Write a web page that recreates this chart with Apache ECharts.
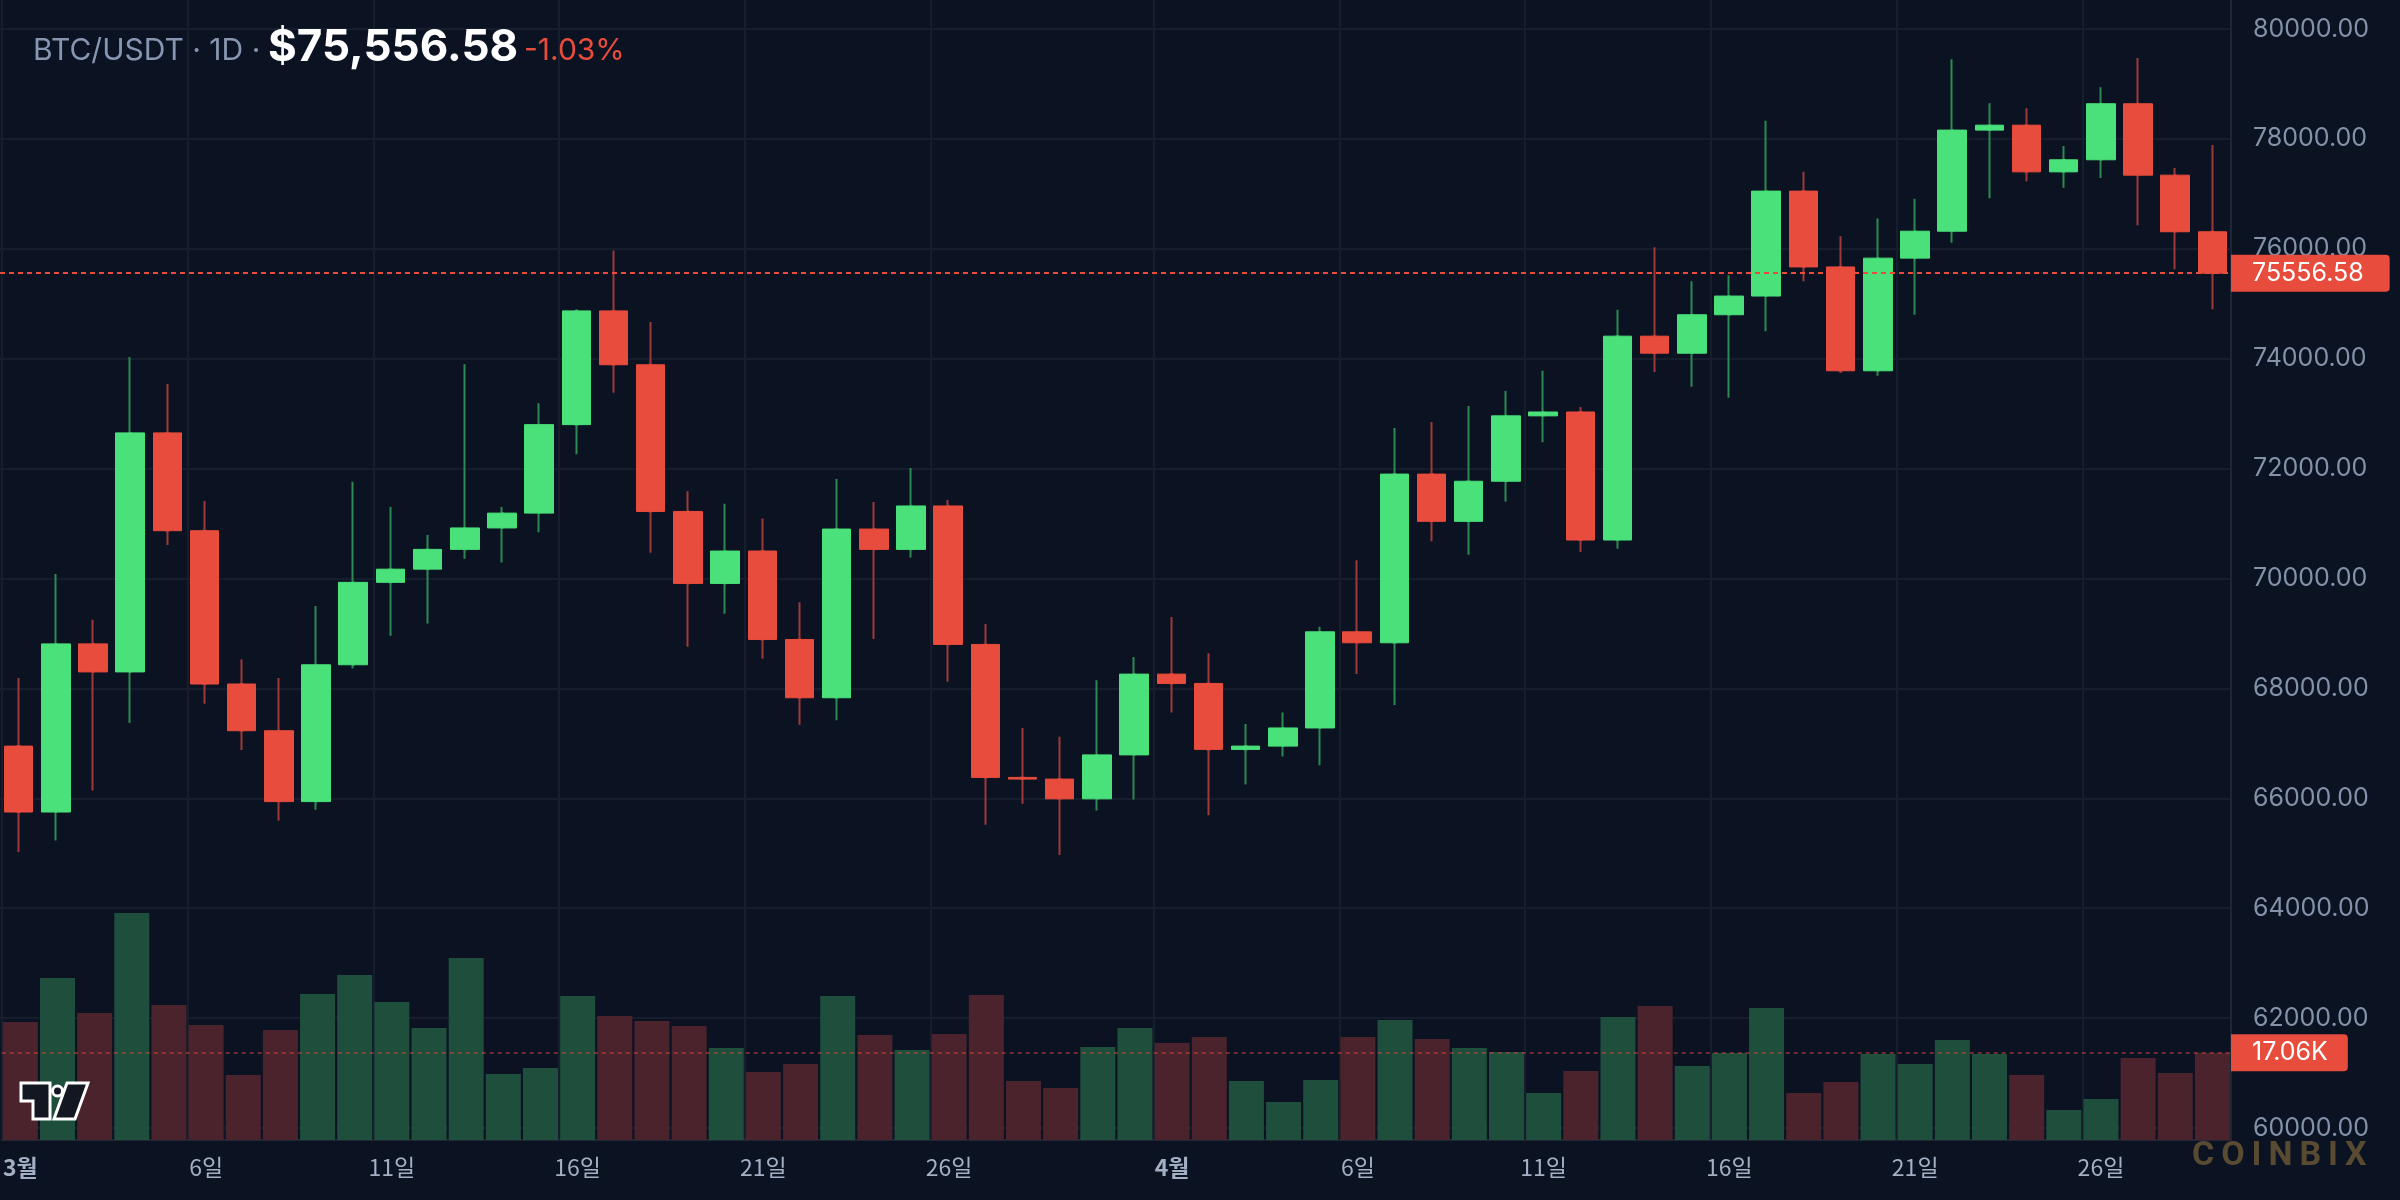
<!DOCTYPE html>
<html>
<head>
<meta charset="utf-8">
<title>BTC/USDT 1D</title>
<script src="https://cdn.jsdelivr.net/npm/echarts@6/dist/echarts.min.js"></script>
<style>
html, body { margin: 0; padding: 0; background: #0b1222; }
#chart { width: 2400px; height: 1200px; }
</style>
</head>
<body>
<div id="chart"></div>
<script>
// daily candles, 1 Mar - 29 Apr
var dates = [
  '03-01','03-02','03-03','03-04','03-05','03-06','03-07','03-08','03-09','03-10',
  '03-11','03-12','03-13','03-14','03-15','03-16','03-17','03-18','03-19','03-20',
  '03-21','03-22','03-23','03-24','03-25','03-26','03-27','03-28','03-29','03-30',
  '03-31','04-01','04-02','04-03','04-04','04-05','04-06','04-07','04-08','04-09',
  '04-10','04-11','04-12','04-13','04-14','04-15','04-16','04-17','04-18','04-19',
  '04-20','04-21','04-22','04-23','04-24','04-25','04-26','04-27','04-28','04-29'
];
var opens = [
  66950, 65750, 68810, 68300, 72650, 70870, 68080, 67230, 65940, 68430,
  69930, 70170, 70530, 70920, 71190, 72800, 74870, 73890, 71220, 69910,
  70500, 68890, 67830, 70900, 70530, 71320, 68800, 66380, 66350, 65990,
  66790, 68260, 68090, 66890, 66950, 67280, 69030, 68830, 71900, 71040,
  71770, 72960, 73030, 70700, 74410, 74100, 74800, 75140, 77050, 75670,
  73780, 75830, 76320, 78160, 78250, 77400, 77620, 78640, 77340, 76310
];
var closes = [
  65750, 68810, 68300, 72650, 70870, 68080, 67230, 65940, 68430, 69930,
  70170, 70530, 70920, 71190, 72800, 74870, 73890, 71220, 69910, 70500,
  68890, 67830, 70900, 70530, 71320, 68800, 66380, 66350, 65990, 66790,
  68260, 68090, 66890, 66950, 67280, 69030, 68830, 71900, 71040, 71770,
  72960, 73030, 70700, 74410, 74100, 74800, 75140, 77050, 75670, 73780,
  75830, 76320, 78160, 78250, 77400, 77620, 78640, 77340, 76310, 75556.58
];
var lows = [
  65025, 65230, 66140, 67370, 70610, 67720, 66880, 65590, 65790, 68360,
  68960, 69180, 70360, 70290, 70840, 72260, 73380, 70470, 68760, 69360,
  68540, 67340, 67420, 68900, 70380, 68120, 65520, 65900, 64970, 65780,
  65980, 67560, 65690, 66250, 66760, 66600, 68260, 67700, 70680, 70430,
  71400, 72480, 70480, 70540, 73760, 73490, 73290, 74500, 75410, 73740,
  73690, 74800, 76110, 76920, 77230, 77110, 77290, 76430, 75630, 74900
];
var highs = [
  68190, 70080, 69250, 74030, 73540, 71410, 68530, 68190, 69500, 71760,
  71300, 70790, 73900, 71300, 73190, 74900, 75970, 74670, 71590, 71360,
  71090, 69570, 71810, 71390, 72010, 71430, 69170, 67280, 67120, 68150,
  68570, 69300, 68640, 67350, 67560, 69120, 70330, 72740, 72850, 73140,
  73410, 73780, 73120, 74890, 76030, 75410, 75520, 78330, 77400, 76230,
  76550, 76910, 79450, 78650, 78560, 77870, 78940, 79470, 77470, 77890
];
// volume in thousands
var volumes = [
  23.06, 31.66, 24.82, 44.36, 26.38, 22.47, 12.70, 21.50, 28.53, 32.25,
  26.97, 21.89, 35.57, 12.90, 14.07, 28.14, 24.23, 23.26, 22.28, 17.98,
  13.29, 14.85, 28.14, 20.52, 17.59, 20.72, 28.34, 11.53, 10.16, 18.17,
  21.89, 18.96, 20.13, 11.53, 7.43, 11.73, 20.13, 23.45, 19.74, 17.98,
  17.20, 9.19, 13.48, 24.04, 26.19, 14.46, 17.00, 25.80, 9.19, 11.33,
  16.81, 14.85, 19.54, 16.81, 12.70, 5.86, 8.01, 16.02, 13.09, 17.06
];
var changePct = -1.03;
var priceMin = 60000, priceMax = 80000, priceStep = 2000;
var volMax = 222.8;

var UP = '#4ae07a', DOWN = '#e74c3c';
var WICK_UP = '#2c8a50', WICK_DOWN = '#a0393a';
var VOL_UP = '#1e4f3d', VOL_DOWN = '#4b232d';
var GRID_LINE = '#161e2e';
var AXIS_LINE = '#1f2737';
var AXIS_TEXT = '#8492a9';
var DATE_TEXT = '#a3afc3';

var wicks = dates.map(function (d, i) {
  return [opens[i], closes[i], lows[i], highs[i]];
});
var bodies = dates.map(function (d, i) {
  return [opens[i], closes[i], Math.min(opens[i], closes[i]), Math.max(opens[i], closes[i])];
});
var last = dates.length - 1;

function showDay(v) {
  var d = +v.split('-')[1];
  return (d - 1) % 5 === 0 && d !== 31;
}

var chart = echarts.init(document.getElementById('chart'));

var option = {
  backgroundColor: '#0b1222',
  animation: false,
  grid: [
    { left: -2, right: 169, top: 29, bottom: 72 },
    { left: -2, right: 169, top: 0, bottom: 60 }
  ],
  xAxis: [
    {
      type: 'category', gridIndex: 0, data: dates, boundaryGap: true,
      axisLine: { show: false }, axisTick: { show: false },
      axisLabel: { show: false }, splitLine: { show: false }
    },
    {
      type: 'category', gridIndex: 1, data: dates, boundaryGap: true,
      axisLine: { show: true, lineStyle: { color: AXIS_LINE, width: 2 } },
      axisTick: { show: false },
      axisLabel: {
        margin: 16,
        interval: function (i, v) { return showDay(v); },
        formatter: function (v) {
          var p = v.split('-');
          var m = +p[0], d = +p[1];
          return d === 1 ? '{m|' + m + '월}' : '{d|' + d + '일}';
        },
        rich: {
          m: { color: DATE_TEXT, fontSize: 23, fontWeight: 'bold', fontFamily: 'Noto Sans CJK KR' },
          d: { color: DATE_TEXT, fontSize: 23, fontFamily: 'Noto Sans CJK KR' }
        }
      },
      splitLine: {
        show: true,
        interval: function (i, v) { return showDay(v); },
        lineStyle: { color: GRID_LINE, width: 2 }
      }
    }
  ],
  yAxis: [
    {
      type: 'value', gridIndex: 0, position: 'right',
      min: priceMin, max: priceMax, interval: priceStep,
      axisLine: { show: false }, axisTick: { show: false },
      axisLabel: {
        margin: 22, color: AXIS_TEXT, fontSize: 25, fontFamily: 'Inter',
        formatter: function (v) { return v.toFixed(2); }
      },
      splitLine: { show: true, lineStyle: { color: GRID_LINE, width: 2 } }
    },
    {
      type: 'value', gridIndex: 1, position: 'right',
      min: 0, max: volMax,
      axisLine: { show: true, lineStyle: { color: AXIS_LINE, width: 2 } },
      axisTick: { show: false }, axisLabel: { show: false },
      splitLine: { show: false }
    }
  ],
  series: [
    {
      name: 'volume', type: 'bar', xAxisIndex: 1, yAxisIndex: 1,
      data: volumes, barWidth: 35,
      itemStyle: {
        color: function (p) {
          return closes[p.dataIndex] >= opens[p.dataIndex] ? VOL_UP : VOL_DOWN;
        }
      },
      markLine: {
        silent: true, symbol: ['none', 'none'],
        lineStyle: { color: 'rgba(231,76,60,0.45)', type: [4, 4], width: 2 },
        label: {
          position: 'end', distance: 0,
          formatter: volumes[last].toFixed(2) + 'K',
          color: '#fff', fontSize: 25, fontFamily: 'Inter',
          backgroundColor: DOWN, padding: [6, 20, 6, 21], borderRadius: [0, 4, 4, 0]
        },
        data: [{ yAxis: volumes[last] }]
      }
    },
    {
      name: 'wick', type: 'candlestick', xAxisIndex: 0, yAxisIndex: 0,
      data: wicks, barWidth: 2,
      itemStyle: {
        color: WICK_UP, color0: WICK_DOWN,
        borderColor: WICK_UP, borderColor0: WICK_DOWN, borderWidth: 2
      }
    },
    {
      name: 'BTC/USDT', type: 'candlestick', xAxisIndex: 0, yAxisIndex: 0,
      data: bodies, barWidth: 29,
      itemStyle: {
        color: UP, color0: DOWN,
        borderColor: UP, borderColor0: DOWN, borderWidth: 1
      },
      markLine: {
        silent: true, symbol: ['none', 'none'],
        lineStyle: { color: DOWN, type: [5, 4], width: 2 },
        label: {
          position: 'end', distance: 0,
          formatter: closes[last].toFixed(2),
          color: '#fff', fontSize: 25, fontFamily: 'Inter',
          backgroundColor: DOWN, padding: [6, 26, 6, 21], borderRadius: [0, 4, 4, 0]
        },
        data: [{ yAxis: closes[last] }]
      }
    }
  ],
  graphic: [
    {
      type: 'text', x: 33, y: 51, z: 100,
      style: { text: 'BTC/USDT · 1D ·', fill: '#8796b0', font: '30px Inter', verticalAlign: 'middle' }
    },
    {
      type: 'text', x: 268, y: 48, z: 100,
      style: { text: '$' + closes[last].toLocaleString('en-US', { minimumFractionDigits: 2 }), fill: '#ffffff', font: 'bold 44px Inter', verticalAlign: 'middle' }
    },
    {
      type: 'text', x: 524, y: 51, z: 100,
      style: { text: changePct.toFixed(2) + '%', fill: DOWN, font: '30px Inter', verticalAlign: 'middle' }
    },
    // logo bottom-left
    {
      type: 'group', z: 100,
      children: [
        { type: 'polygon', z: 100, shape: { points: [[21, 1083], [50, 1083], [50, 1119], [33, 1119], [33, 1101], [21, 1101]] },
          style: { fill: '#131722', stroke: '#ffffff', lineWidth: 3 } },
        { type: 'circle', z: 100, shape: { cx: 57.5, cy: 1091, r: 5 },
          style: { fill: '#131722', stroke: '#ffffff', lineWidth: 3 } },
        { type: 'polygon', z: 100, shape: { points: [[67, 1083], [88, 1083], [75, 1119], [54, 1119]] },
          style: { fill: '#131722', stroke: '#ffffff', lineWidth: 3 } }
      ]
    },
    {
      type: 'text', x: 2192, y: 1156, z: 100,
      style: { text: 'C\u2009O\u2009I\u2009N\u2009B\u2009I\u2009X', fill: '#594a32', font: 'bold 34px Roboto', verticalAlign: 'middle' }
    }
  ]
};

chart.setOption(option);
</script>
</body>
</html>
